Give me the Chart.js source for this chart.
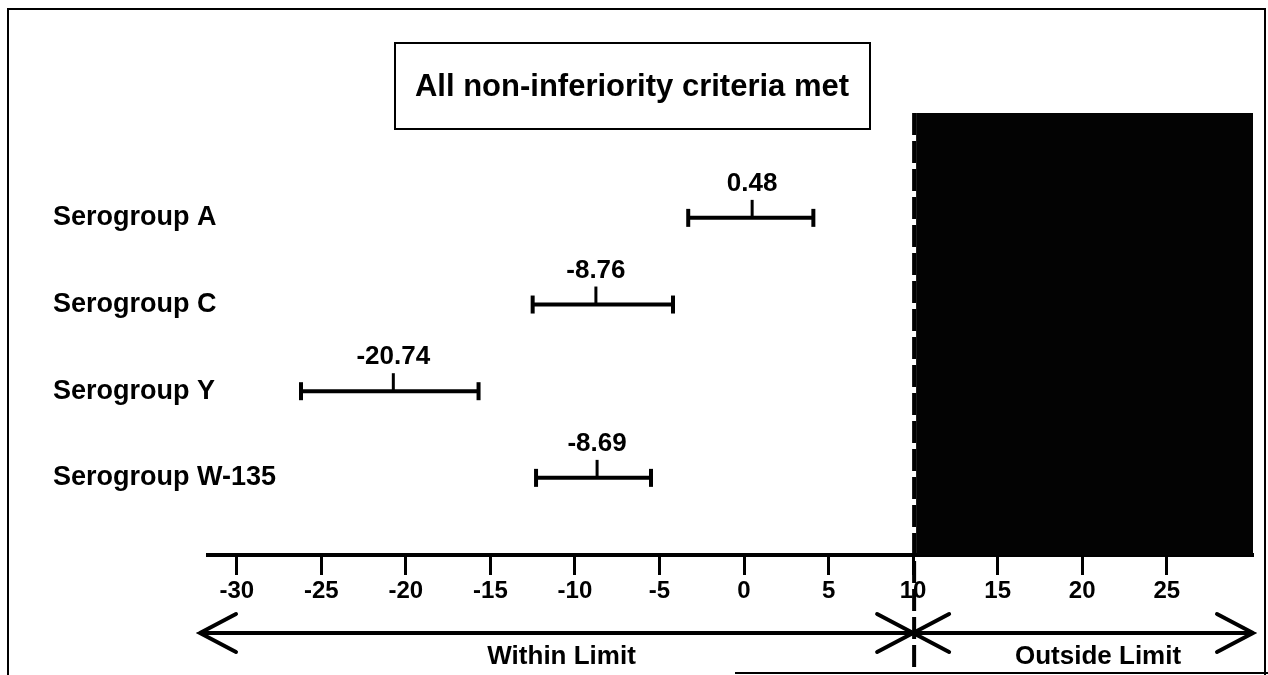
<!DOCTYPE html>
<html>
<head>
<meta charset="utf-8">
<script src="https://cdn.jsdelivr.net/npm/chart.js@4.4.0/dist/chart.umd.min.js"></script>
<style>
  html, body { margin: 0; padding: 0; background: #fff; }
  #wrap { width: 1268px; height: 675px; }
</style>
</head>
<body>
<div id="wrap"><canvas id="niChart" width="1268" height="675"></canvas></div>
<script>
// Difference in seroresponse (%) with 95% CI per serogroup
const serogroups = ['Serogroup A', 'Serogroup C', 'Serogroup Y', 'Serogroup W-135'];
const estimates = [0.48, -8.76, -20.74, -8.69];
const lowerCI = [-3.3, -12.5, -26.2, -12.3];
const upperCI = [4.1, -4.2, -15.7, -5.5];
const xTicks = [-30, -25, -20, -15, -10, -5, 0, 5, 10, 15, 20, 25];
const margin = 10;

const fontFamily = '"Liberation Sans", Arial, sans-serif';
const bold = size => 'bold ' + size + 'px ' + fontFamily;

Chart.defaults.font.family = fontFamily;
Chart.defaults.color = '#000';

// one line per serogroup, end caps are rotated 'line' points
const ciDatasets = serogroups.map((name, i) => ({
    label: name,
    data: [{ x: lowerCI[i], y: i + 1 }, { x: upperCI[i], y: i + 1 }],
    showLine: true,
    borderColor: '#000',
    borderWidth: 4,
    pointStyle: 'line',
    pointRotation: 90,
    pointRadius: 9,
    pointBorderWidth: 4,
    pointBorderColor: '#000'
}));

const decorations = {
    id: 'decorations',
    beforeDatasetsDraw(chart) {
        const { ctx, chartArea, scales: { x } } = chart;
        const xm = x.getPixelForValue(margin);
        ctx.save();
        // region beyond the non-inferiority margin
        ctx.fillStyle = '#030303';
        ctx.fillRect(xm + 3, chartArea.top, chartArea.right - xm - 3, chartArea.bottom - chartArea.top);
        ctx.strokeStyle = '#000';
        ctx.lineWidth = 4;
        ctx.setLineDash([22, 6]);
        ctx.beginPath();
        ctx.moveTo(xm + 1, chartArea.top);
        ctx.lineTo(xm + 1, 668);
        ctx.stroke();
        ctx.restore();
    },
    afterDraw(chart) {
        const { ctx, chartArea, scales: { x, y } } = chart;
        ctx.save();
        ctx.strokeStyle = '#000';
        ctx.fillStyle = '#000';
        ctx.textBaseline = 'middle';

        // row labels, left aligned at the page margin
        ctx.textAlign = 'left';
        ctx.font = bold(27);
        serogroups.forEach((name, i) => {
            ctx.fillText(name, 53, y.getPixelForValue(i + 1));
        });

        // point estimate ticks and values
        ctx.textAlign = 'center';
        estimates.forEach((v, i) => {
            const px = x.getPixelForValue(v);
            const py = y.getPixelForValue(i + 1);
            ctx.lineWidth = 3;
            ctx.beginPath();
            ctx.moveTo(px, py);
            ctx.lineTo(px, py - 18);
            ctx.stroke();
            ctx.font = bold(26);
            ctx.fillText(v.toFixed(2), px, py - 34);
        });

        // limit arrows
        const ay = 633;
        const left = chartArea.left - 8;
        const mid = x.getPixelForValue(margin);
        const right = chartArea.right;
        ctx.lineWidth = 4;
        ctx.lineCap = 'round';
        ctx.beginPath();
        ctx.moveTo(left, ay);
        ctx.lineTo(right, ay);
        const head = (tx, dir) => {
            ctx.moveTo(tx + dir * 36, ay - 19);
            ctx.lineTo(tx, ay);
            ctx.lineTo(tx + dir * 36, ay + 19);
        };
        head(left, 1);
        head(mid, -1);
        head(mid, 1);
        head(right, -1);
        ctx.stroke();

        ctx.font = bold(26);
        ctx.fillText('Within Limit', (left + mid) / 2 + 5, 657);
        ctx.fillText('Outside Limit', (mid + right) / 2 + 15, 657);

        // caption box
        ctx.lineWidth = 2;
        ctx.lineCap = 'butt';
        ctx.strokeRect(395, 43, 475, 86);
        ctx.font = bold(31);
        ctx.fillText('All non-inferiority criteria met', 632, 87);

        // page frame
        ctx.beginPath();
        ctx.moveTo(8, 675);
        ctx.lineTo(8, 9);
        ctx.lineTo(1265, 9);
        ctx.lineTo(1265, 675);
        ctx.moveTo(735, 673);
        ctx.lineTo(1268, 673);
        ctx.stroke();
        ctx.restore();
    }
};

window.onload = function() {
    const ctx = document.getElementById('niChart').getContext('2d');
    new Chart(ctx, {
        type: 'scatter',
        data: { datasets: ciDatasets },
        options: {
            responsive: false,
            animation: false,
            devicePixelRatio: 1,
            layout: { padding: { top: 113, right: 15, bottom: 0, left: 53 } },
            plugins: {
                legend: { display: false },
                tooltip: { enabled: false }
            },
            scales: {
                x: {
                    type: 'linear',
                    min: -31.7,
                    max: 30.1,
                    afterBuildTicks: s => { s.ticks = xTicks.map(v => ({ value: v })); },
                    afterFit: s => { s.height = 120; },
                    border: { display: true, color: '#000', width: 4 },
                    grid: { drawOnChartArea: false, drawTicks: true, tickLength: 20, tickWidth: 3, tickColor: '#000' },
                    ticks: { color: '#000', font: { size: 24, weight: 'bold' }, padding: 2, maxRotation: 0, autoSkip: false }
                },
                y: {
                    type: 'linear',
                    reverse: true,
                    min: -0.21,
                    max: 4.89,
                    afterBuildTicks: s => { s.ticks = serogroups.map((_, i) => ({ value: i + 1 })); },
                    afterFit: s => { s.width = 155; },
                    border: { display: false },
                    grid: { display: false },
                    ticks: { display: false }
                }
            }
        },
        plugins: [decorations]
    });
};
</script>
</body>
</html>
